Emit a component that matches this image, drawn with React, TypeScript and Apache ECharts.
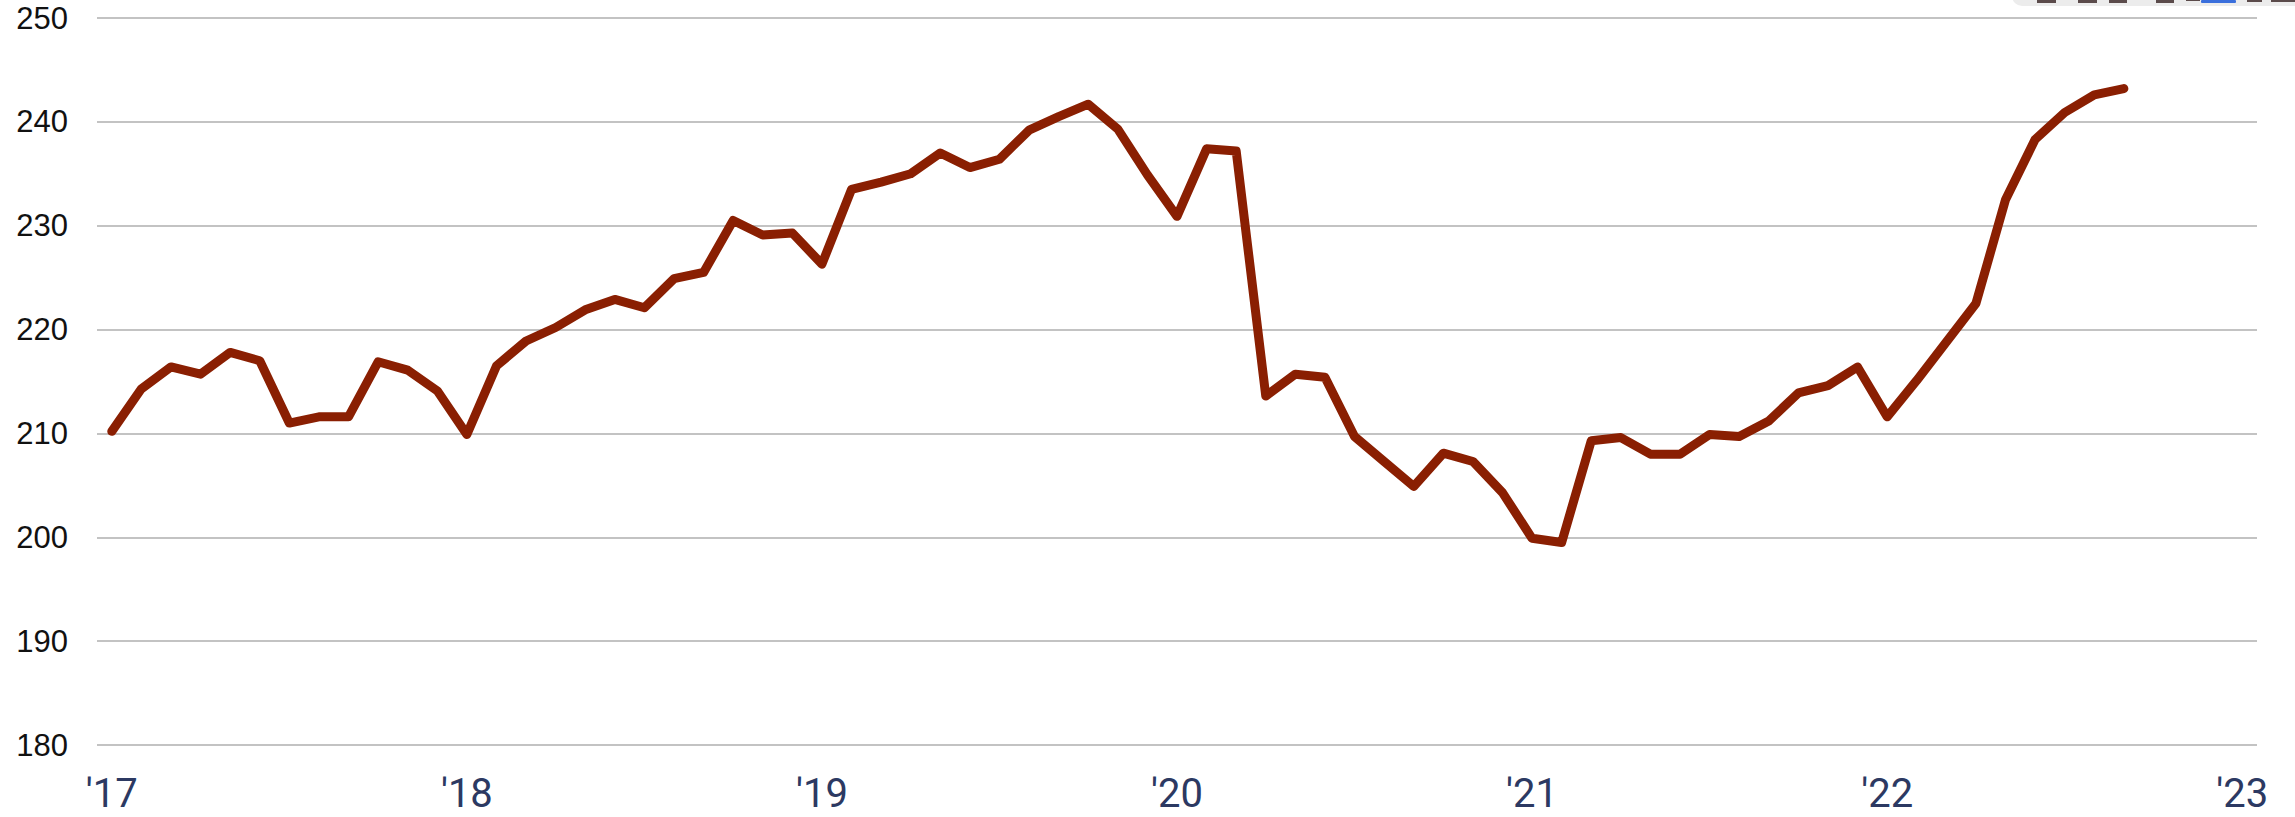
import React, { useEffect, useRef } from "react";
import * as echarts from "echarts";

const YEARS = ["2017", "2018", "2019", "2020", "2021", "2022", "2023"];
const TICK_LABELS = ["'17", "'18", "'19", "'20", "'21", "'22", "'23"];

const values2017 = [210.2, 214.3, 216.4, 215.7, 217.8, 217.0, 211.0, 211.6, 211.6, 216.9, 216.1, 214.1];
const values2018 = [209.9, 216.5, 218.9, 220.2, 221.9, 222.9, 222.1, 224.9, 225.5, 230.5, 229.1, 229.3];
const values2019 = [226.3, 233.5, 234.2, 235.0, 237.0, 235.6, 236.4, 239.2, 240.5, 241.7, 239.3, 234.9];
const values2020 = [230.9, 237.4, 237.2, 213.6, 215.7, 215.4, 209.7, 207.3, 204.9, 208.1, 207.3, 204.3];
const values2021 = [199.9, 199.5, 209.3, 209.6, 208.0, 208.0, 209.9, 209.7, 211.2, 213.9, 214.6, 216.4];
const values2022 = [211.6, 215.1, 218.8, 222.5, 232.5, 238.3, 240.9, 242.6, 243.2];

const seriesValues = [
  ...values2017,
  ...values2018,
  ...values2019,
  ...values2020,
  ...values2021,
  ...values2022,
];

const categories: string[] = YEARS.flatMap((y, yi) =>
  yi < YEARS.length - 1
    ? Array.from({ length: 12 }, (_, m) => `${y}-${String(m + 1).padStart(2, "0")}`)
    : [`${y}-01`]
);

export default function App() {
  const ref = useRef<HTMLDivElement>(null);

  useEffect(() => {
    if (!ref.current) return;
    const chart = echarts.init(ref.current, undefined, { renderer: "svg" });
    const dark = "#5b4b4b";
    const option: any = {
      animation: false,
      grid: { left: 97, right: 38, top: 18, bottom: 72, containLabel: false },
      xAxis: {
        type: "category",
        data: categories,
        boundaryGap: true,
        axisLine: { show: false },
        axisTick: { show: false },
        splitLine: { show: false },
        axisLabel: {
          interval: (i: number) => i % 12 === 0,
          formatter: (_v: string, i: number) => (i % 12 === 0 ? TICK_LABELS[i / 12] : ""),
          color: "#2c3962",
          fontSize: 40,
          fontFamily: "Roboto, 'Open Sans', sans-serif",
          margin: 28,
        },
      },
      yAxis: {
        type: "value",
        min: 180,
        max: 250,
        interval: 10,
        axisLine: { show: false },
        axisTick: { show: false },
        splitLine: { lineStyle: { color: "#c3c3c3", width: 2 } },
        axisLabel: {
          color: "#111111",
          fontSize: 31,
          fontFamily: "'Liberation Sans', Arial, sans-serif",
          margin: 29,
        },
      },
      series: [
        {
          type: "line",
          data: seriesValues,
          symbol: "none",
          clip: false,
          lineStyle: { color: "#8a1f02", width: 9, cap: "round", join: "round" },
          z: 3,
        },
      ],
      graphic: [
        { type: "rect", shape: { x: 2012, y: -14, width: 300, height: 20, r: 10 }, style: { fill: "#ececec" } },
        { type: "rect", shape: { x: 2037, y: 0, width: 19, height: 3 }, style: { fill: dark } },
        { type: "rect", shape: { x: 2078, y: 0, width: 19, height: 3 }, style: { fill: dark } },
        { type: "rect", shape: { x: 2109, y: 0, width: 18, height: 3 }, style: { fill: dark } },
        { type: "rect", shape: { x: 2156, y: 0, width: 18, height: 3 }, style: { fill: dark } },
        { type: "rect", shape: { x: 2186, y: 0, width: 14, height: 1 }, style: { fill: dark } },
        { type: "rect", shape: { x: 2201, y: 0, width: 35, height: 3, r: 1 }, style: { fill: "#3a6fdc" } },
        { type: "rect", shape: { x: 2247, y: 0, width: 15, height: 2 }, style: { fill: dark } },
        { type: "rect", shape: { x: 2271, y: 0, width: 24, height: 2 }, style: { fill: dark } },
      ],
    };
    chart.setOption(option);
    return () => chart.dispose();
  }, []);

  return (
    <div
      ref={ref}
      style={{ position: "absolute", left: 0, top: 0, width: 2295, height: 817, background: "#ffffff" }}
    />
  );
}
